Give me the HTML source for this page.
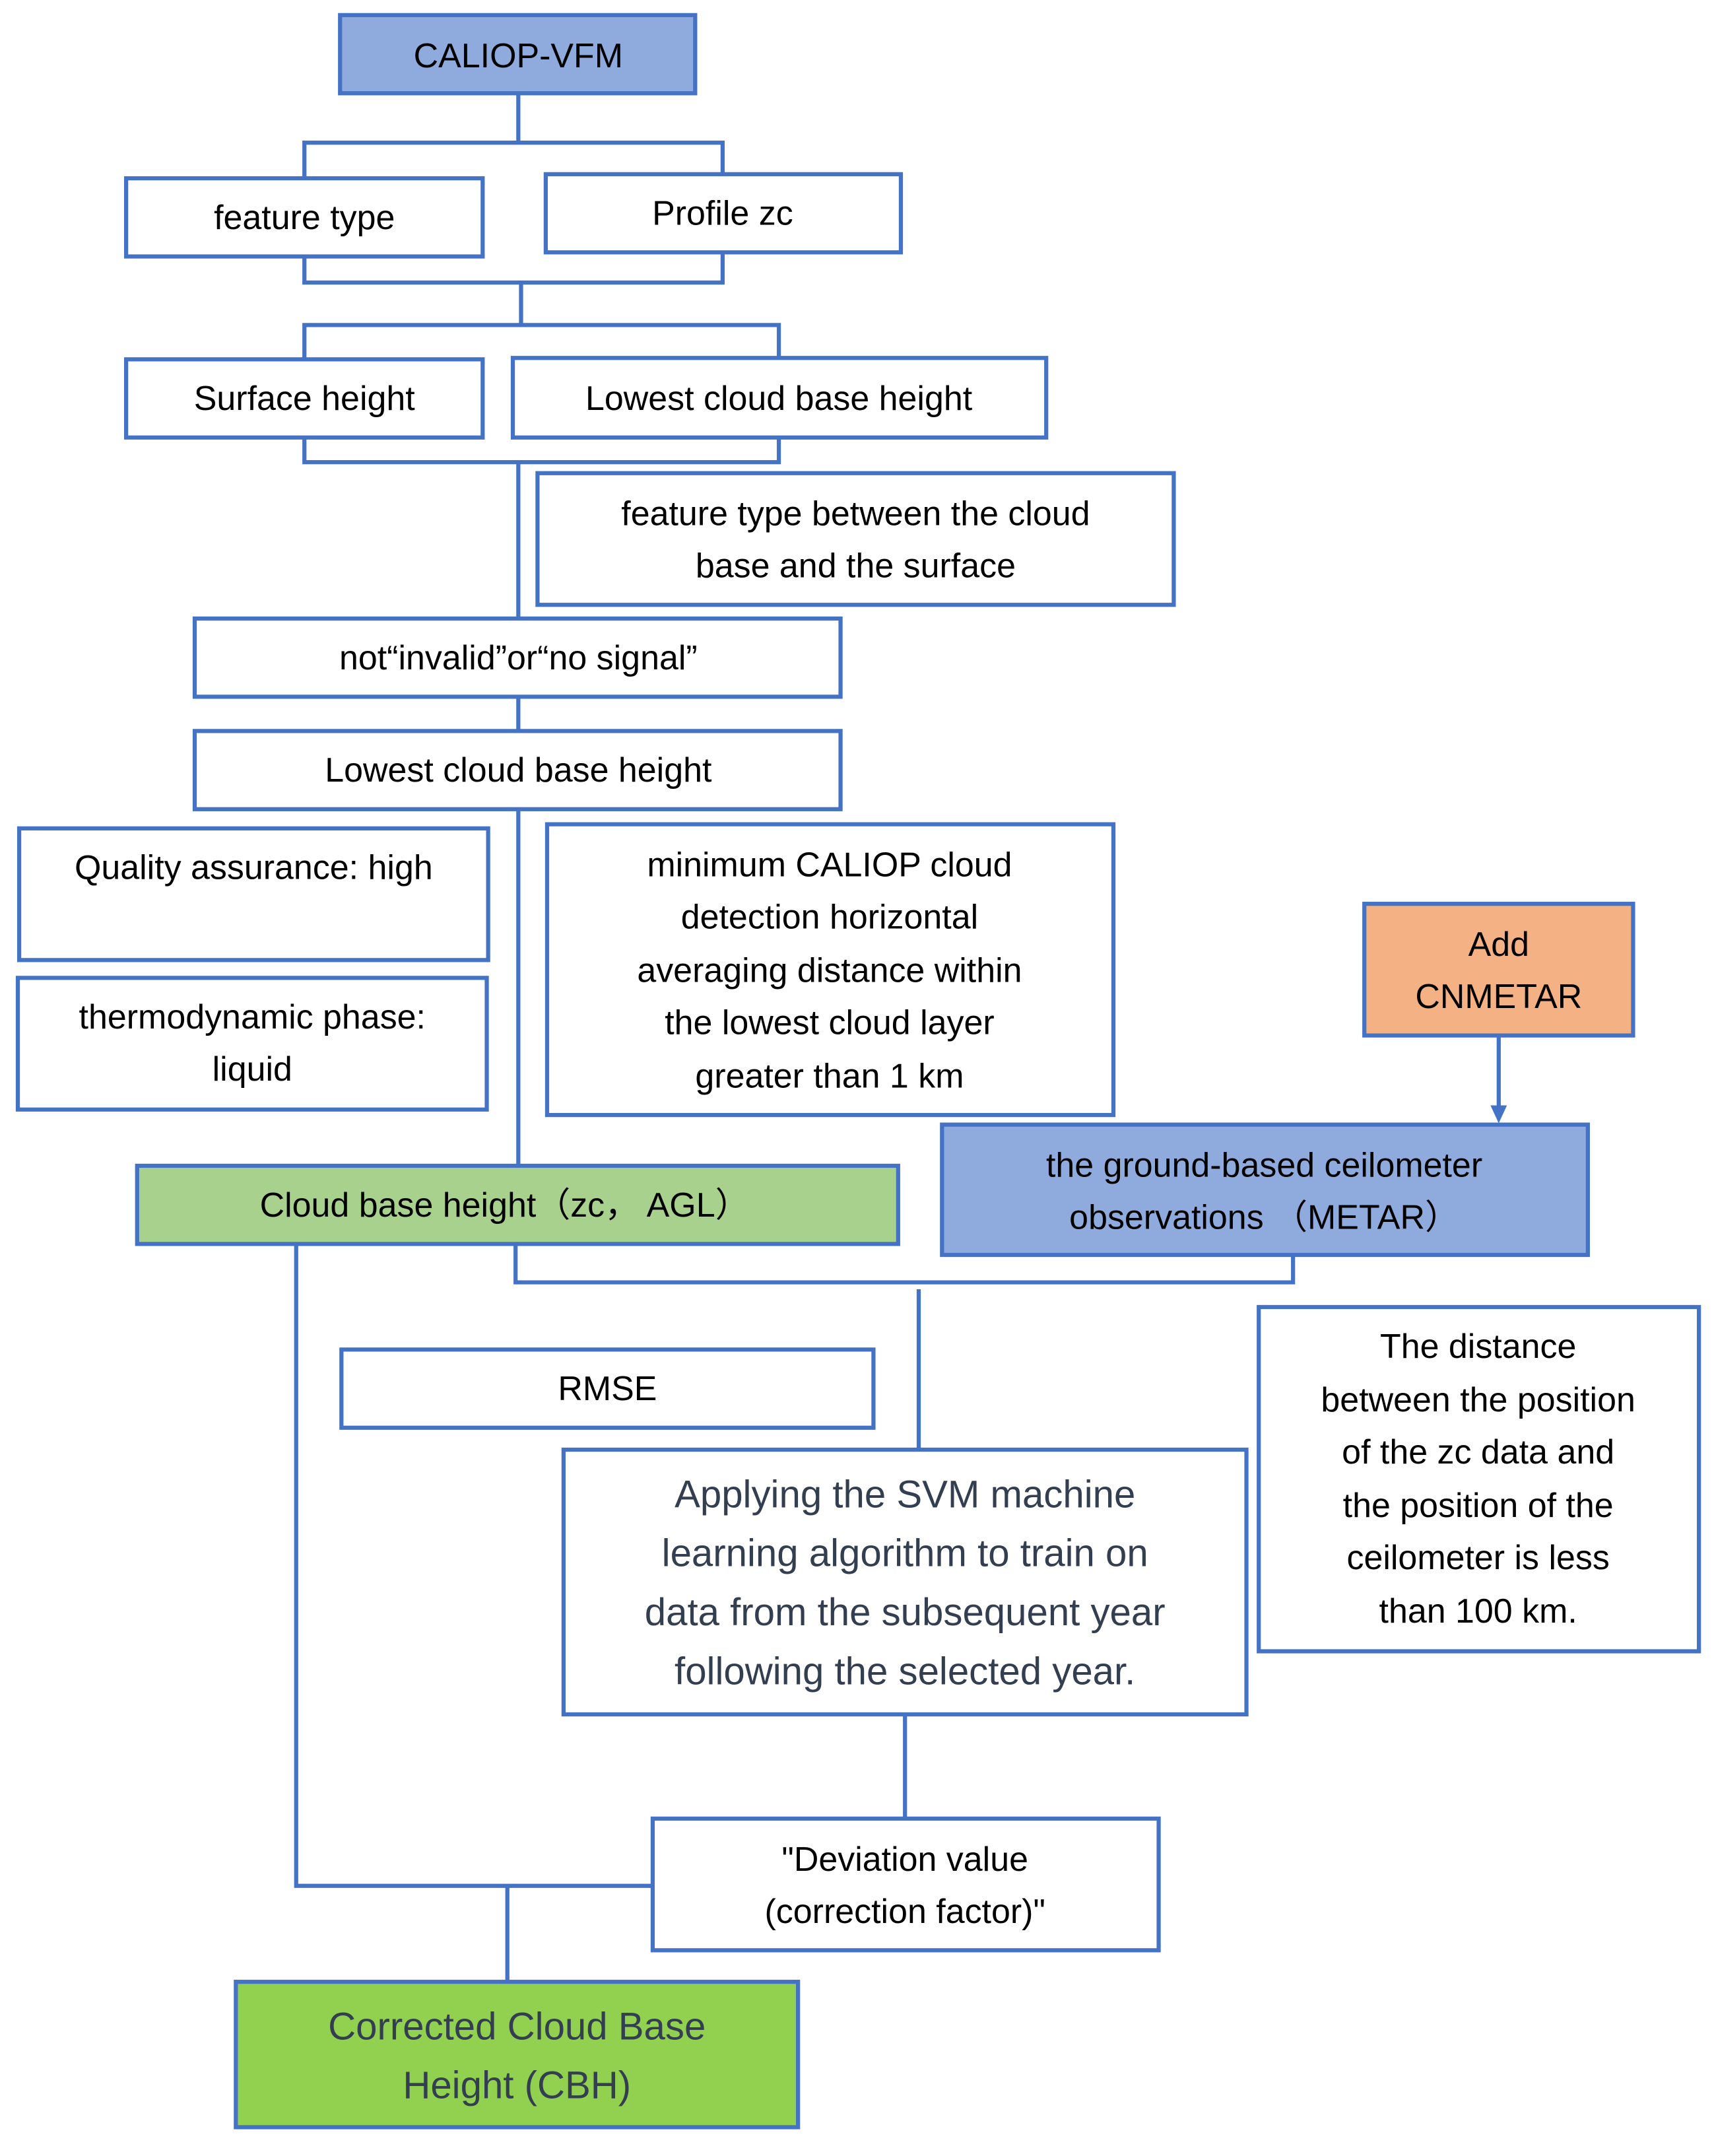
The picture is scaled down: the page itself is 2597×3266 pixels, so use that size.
<!DOCTYPE html>
<html><head><meta charset="utf-8"><style>html,body{margin:0;padding:0;background:#fff}svg{display:block}</style></head>
<body>
<svg width="2597" height="3266" viewBox="0 0 1250 1572" preserveAspectRatio="none" xmlns="http://www.w3.org/2000/svg" font-family="Liberation Sans, sans-serif">
<g fill="none" stroke="#4472c4" stroke-width="3">
<path d="M378 68V104M222 130V104H527V127M222 187V206H527V184M380 206V237M222 262V237H568V261M222 319V337H568V319M378 337V450M378 508V533M378 590V850M376 907V935H943V910M670 940V1057M660 1250V1326M216 907V1375H476M370 1375V1445"/>
<path d="M1093 755V808"/>
</g>
<polygon points="1087,806 1099,806 1093,819" fill="#4472c4"/>
<g stroke="#4472c4" stroke-width="3">
<rect x="248" y="11" width="259" height="57" fill="#8faadc"/>
<rect x="92" y="130" width="260" height="57" fill="#fff"/>
<rect x="398" y="127" width="259" height="57" fill="#fff"/>
<rect x="92" y="262" width="260" height="57" fill="#fff"/>
<rect x="374" y="261" width="389" height="58" fill="#fff"/>
<rect x="392" y="345" width="464" height="96" fill="#fff"/>
<rect x="142" y="451" width="471" height="57" fill="#fff"/>
<rect x="142" y="533" width="471" height="57" fill="#fff"/>
<rect x="14" y="604" width="342" height="96" fill="#fff"/>
<rect x="13" y="713" width="342" height="96" fill="#fff"/>
<rect x="399" y="601" width="413" height="212" fill="#fff"/>
<rect x="995" y="659" width="196" height="96" fill="#f4b183"/>
<rect x="687" y="820" width="471" height="95" fill="#8faadc"/>
<rect x="100" y="850" width="555" height="57" fill="#a9d18e"/>
<rect x="249" y="984" width="388" height="57" fill="#fff"/>
<rect x="411" y="1057" width="498" height="193" fill="#fff"/>
<rect x="918" y="953" width="321" height="251" fill="#fff"/>
<rect x="476" y="1326" width="369" height="96" fill="#fff"/>
<rect x="172" y="1445" width="410" height="106" fill="#92d050"/>
</g>
<g font-size="25" fill="#000" text-anchor="middle">
<text x="378" y="49">CALIOP-VFM</text>
<text x="222" y="167">feature type</text>
<text x="527" y="164">Profile zc</text>
<text x="222" y="299">Surface height</text>
<text x="568" y="299">Lowest cloud base height</text>
<text x="624" y="383">feature type between the cloud</text>
<text x="624" y="421">base and the surface</text>
<text x="378" y="488">not“invalid”or“no signal”</text>
<text x="378" y="570">Lowest cloud base height</text>
<text x="185" y="641">Quality assurance: high</text>
<text x="184" y="750">thermodynamic phase:</text>
<text x="184" y="788">liquid</text>
<text x="605" y="639">minimum CALIOP cloud</text>
<text x="605" y="677">detection horizontal</text>
<text x="605" y="716">averaging distance within</text>
<text x="605" y="754">the lowest cloud layer</text>
<text x="605" y="793">greater than 1 km</text>
<text x="1093" y="697">Add</text>
<text x="1093" y="735">CNMETAR</text>
<text x="922" y="858">the ground-based ceilometer</text>
<text x="922" y="896">observations （METAR）</text>
<text x="368" y="887">Cloud base height（zc， AGL）</text>
<text x="443" y="1021">RMSE</text>
<text x="1078" y="990">The distance</text>
<text x="1078" y="1029">between the position</text>
<text x="1078" y="1067">of the  zc data and</text>
<text x="1078" y="1106">the position of the</text>
<text x="1078" y="1144">ceilometer is less</text>
<text x="1078" y="1183">than 100 km.</text>
<text x="660" y="1364">"Deviation value</text>
<text x="660" y="1402">(correction factor)"</text>
</g>
<g font-size="28" fill="#333f50" text-anchor="middle">
<text x="660" y="1099">Applying the SVM machine</text>
<text x="660" y="1142">learning algorithm to train on</text>
<text x="660" y="1185">data from the subsequent year</text>
<text x="660" y="1228">following the selected year.</text>
<text x="377" y="1487">Corrected Cloud Base</text>
<text x="377" y="1530">Height (CBH)</text>
</g>
</svg>
</body></html>
